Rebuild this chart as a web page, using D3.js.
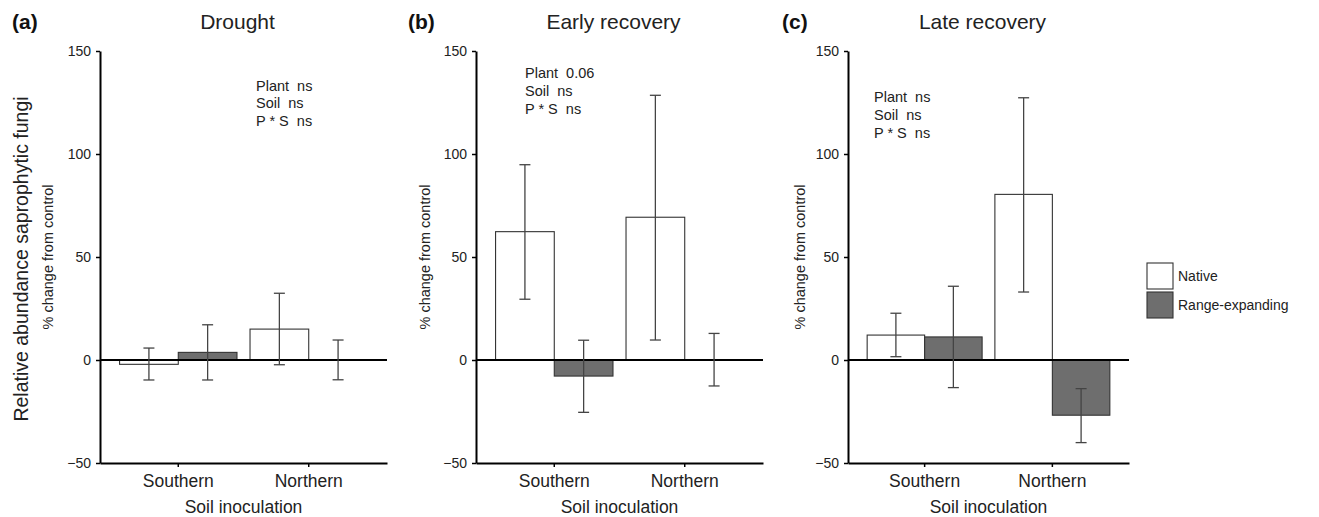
<!DOCTYPE html>
<html>
<head>
<meta charset="utf-8">
<script src="https://cdn.jsdelivr.net/npm/d3@7"></script>
<style>
  body { margin: 0; background: #fff; }
  svg { font-family: "Liberation Sans", Arial, sans-serif; }
  .axis path, .axis line { stroke: #000; }
  .axis path { stroke-width: 2; }
  .axis line { stroke-width: 1.5; }
  .axis text { fill: #222; }
  .ann { font-size: 14.5px; fill: #222; white-space: pre; }
</style>
</head>
<body>
<div id="chart"></div>
<script>
const categories = ["Southern", "Northern"];
const groups = ["Native", "Range-expanding"];
const panelTitles = ["Drought", "Early recovery", "Late recovery"];
const panelLetters = ["(a)", "(b)", "(c)"];
const yTicks = [-50, 0, 50, 100, 150];

// per panel: [Southern, Northern]
const nativeMean = [[-2.1, 15], [62.3, 69.3], [12.1, 80.4]];
const nativeLo = [[-9.7, -2.3], [29.5, 9.7], [1.6, 33]];
const nativeHi = [[5.8, 32.4], [94.8, 128.5], [22.7, 127.3]];
const rangeMean = [[3.7, 0], [-7.8, 0], [11.2, -26.8]];
const rangeLo = [[-9.7, -9.6], [-25.4, -12.6], [-13.4, -40.1]];
const rangeHi = [[17.1, 9.7], [9.6, 12.9], [35.8, -13.9]];

const statPlant = ["ns", "0.06", "ns"];
const statSoil = ["ns", "ns", "ns"];
const statPS = ["ns", "ns", "ns"];

const width = 1319;
const height = 517;
const yTop = 51;
const yBottom = 463;

// horizontal layout of each panel
const layout = [
  { x0: 100, x1: 387, ann: [156, 90.5], ylab: 53 },
  { x0: 476, x1: 763, ann: [49, 78.3], ylab: 430 },
  { x0: 848, x1: 1129, ann: [26, 102.3], ylab: 805 },
];

const fills = { "Native": "#ffffff", "Range-expanding": "#6e6e6e" };

const svg = d3.select("#chart").append("svg")
  .attr("width", width)
  .attr("height", height);

const y = d3.scaleLinear().domain([-50, 150]).range([yBottom, yTop]);

panelTitles.forEach((title, p) => {
  const L = layout[p];
  const x = d3.scaleBand().domain(categories).range([L.x0, L.x1])
    .paddingInner(0.1).paddingOuter(0.15);
  const xs = d3.scaleBand().domain(groups).range([0, x.bandwidth()]);

  const rows = [];
  categories.forEach((c, i) => {
    rows.push({ cat: c, grp: "Native", mean: nativeMean[p][i], lo: nativeLo[p][i], hi: nativeHi[p][i] });
    rows.push({ cat: c, grp: "Range-expanding", mean: rangeMean[p][i], lo: rangeLo[p][i], hi: rangeHi[p][i] });
  });

  const g = svg.append("g");

  g.selectAll("rect.bar")
    .data(rows)
    .join("rect")
    .attr("class", "bar")
    .attr("x", (d) => x(d.cat) + xs(d.grp))
    .attr("width", xs.bandwidth())
    .attr("y", (d) => y(Math.max(0, d.mean)))
    .attr("height", (d) => Math.abs(y(d.mean) - y(0)))
    .attr("fill", (d) => fills[d.grp])
    .attr("stroke", "#333")
    .attr("stroke-width", 1.1);

  g.append("line")
    .attr("x1", L.x0).attr("x2", L.x1)
    .attr("y1", y(0)).attr("y2", y(0))
    .attr("stroke", "#000").attr("stroke-width", 2);

  const err = g.selectAll("g.err").data(rows).join("g").attr("class", "err")
    .attr("stroke", "#444").attr("stroke-width", 1.3);
  const cx = (d) => x(d.cat) + xs(d.grp) + xs.bandwidth() / 2;
  err.append("line")
    .attr("x1", cx).attr("x2", cx)
    .attr("y1", (d) => y(d.lo)).attr("y2", (d) => y(d.hi));
  err.append("line")
    .attr("x1", (d) => cx(d) - 5.5).attr("x2", (d) => cx(d) + 5.5)
    .attr("y1", (d) => y(d.hi)).attr("y2", (d) => y(d.hi));
  err.append("line")
    .attr("x1", (d) => cx(d) - 5.5).attr("x2", (d) => cx(d) + 5.5)
    .attr("y1", (d) => y(d.lo)).attr("y2", (d) => y(d.lo));

  g.append("g")
    .attr("class", "axis")
    .attr("transform", `translate(${L.x0},0)`)
    .call(d3.axisLeft(y).tickValues(yTicks).tickSize(4).tickSizeOuter(0).tickPadding(5))
    .call((a) => a.selectAll("text").attr("font-size", 14));

  g.append("g")
    .attr("class", "axis")
    .attr("transform", `translate(0,${yBottom})`)
    .call(d3.axisBottom(x).tickSize(4).tickSizeOuter(0).tickPadding(8))
    .call((a) => a.selectAll("text").attr("font-size", 17.5));

  g.select(".axis").raise();

  svg.append("text")
    .attr("x", (L.x0 + L.x1) / 2)
    .attr("y", 513)
    .attr("text-anchor", "middle")
    .attr("font-size", 17.5)
    .attr("fill", "#222")
    .text("Soil inoculation");

  svg.append("text")
    .attr("transform", `translate(${L.ylab},${(yTop + yBottom) / 2}) rotate(-90)`)
    .attr("text-anchor", "middle")
    .attr("font-size", 14.5)
    .attr("fill", "#222")
    .text("% change from control");

  svg.append("text")
    .attr("x", (L.x0 + L.x1) / 2 - 6)
    .attr("y", 29)
    .attr("text-anchor", "middle")
    .attr("font-size", 21)
    .attr("fill", "#222")
    .text(title);

  svg.append("text")
    .attr("x", [12, 408, 782][p])
    .attr("y", 29)
    .attr("font-size", 21)
    .attr("font-weight", "bold")
    .attr("fill", "#111")
    .text(panelLetters[p]);

  const annLines = [`Plant  ${statPlant[p]}`, `Soil  ${statSoil[p]}`, `P * S  ${statPS[p]}`];
  svg.append("g").selectAll("text")
    .data(annLines)
    .join("text")
    .attr("class", "ann")
    .attr("x", L.x0 + L.ann[0])
    .attr("y", (d, i) => L.ann[1] + i * 17.7)
    .text((d) => d);
});

svg.append("text")
  .attr("transform", `translate(28,${(yTop + yBottom) / 2 + 2}) rotate(-90)`)
  .attr("text-anchor", "middle")
  .attr("font-size", 19.5)
  .attr("fill", "#222")
  .text("Relative abundance saprophytic fungi");

const legend = svg.append("g").attr("transform", "translate(1147,263)");
legend.selectAll("rect")
  .data(groups)
  .join("rect")
  .attr("x", 0)
  .attr("y", (d, i) => i * 29)
  .attr("width", 26)
  .attr("height", 26)
  .attr("fill", (d) => fills[d])
  .attr("stroke", "#333")
  .attr("stroke-width", 1.1);
legend.selectAll("text")
  .data(groups)
  .join("text")
  .attr("x", 31)
  .attr("y", (d, i) => i * 29 + 13)
  .attr("dy", "0.35em")
  .attr("font-size", 14)
  .attr("fill", "#222")
  .text((d) => d);
</script>
</body>
</html>
